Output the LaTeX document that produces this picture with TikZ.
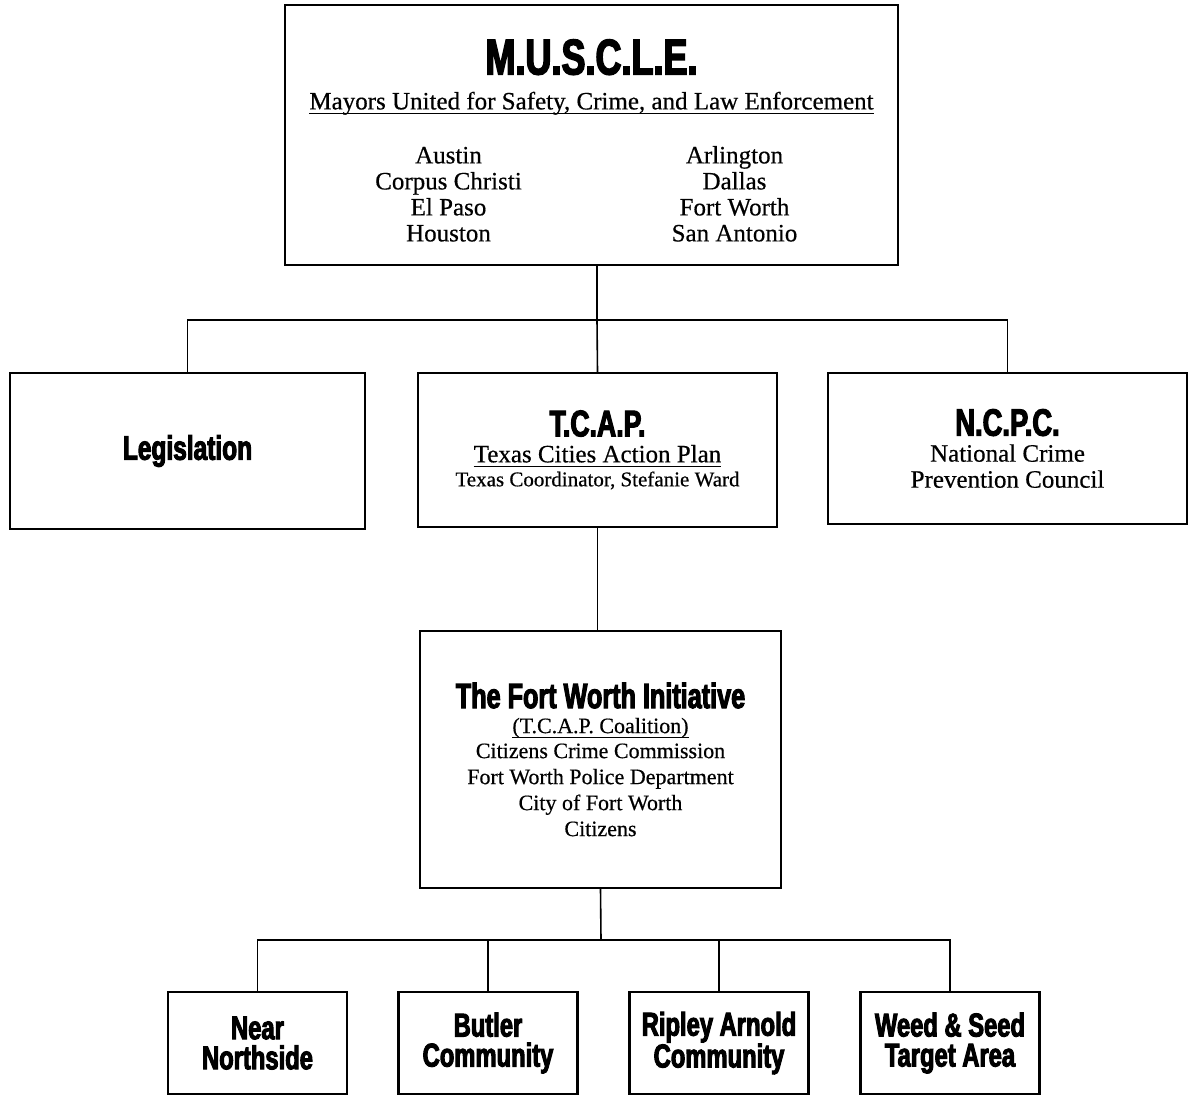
\documentclass[tikz,border=0pt]{standalone}
\usepackage{fontspec}
\setmainfont{Liberation Serif}[FakeBold=0.5]
\newfontfamily\headfont[FakeStretch=0.72,FakeBold=3]{Liberation Sans}
\newcommand{\boxhead}[2]{{\headfont\bfseries\fontsize{#1}{#1}\selectfont #2}}
\newcommand{\underrule}[1]{\setbox0\hbox{#1}\leavevmode\rlap{\raisebox{-5pt}{\rule{\wd0}{1.4pt}}}\box0}
\usepackage{tikz}

\begin{document}
\begin{tikzpicture}[
        x=1pt, y=-1pt,
        box/.style={
            draw,
            line width=2.2pt,
            align=center,
            inner sep=0pt,
            font=\fontsize{25}{26}\selectfont
        },
        area/.style={
            box,
            minimum width=179pt,
            minimum height=102pt,
            font=\headfont\bfseries\fontsize{33}{30}\selectfont
        },
        link/.style={line width=1.6pt}
    ]
        \useasboundingbox (0,0) rectangle (1193,1096);

        \node[box, minimum width=613pt, minimum height=260pt] (muscle) at (591.5,135) {\rule{0pt}{46pt}\boxhead{50}{M.U.S.C.L.E.}\\[9pt]
            \underrule{Mayors United for Safety, Crime, and Law Enforcement}\\[28pt]
            \makebox[286pt]{Austin}\makebox[286pt]{Arlington}\\
            \makebox[286pt]{Corpus Christi}\makebox[286pt]{Dallas}\\
            \makebox[286pt]{El Paso}\makebox[286pt]{Fort Worth}\\
            \makebox[286pt]{Houston}\makebox[286pt]{San Antonio}};

        \node[box, minimum width=355pt, minimum height=156pt] (legis) at (187.5,451) {\boxhead{34}{Legislation}};
        \node[box, minimum width=359pt, minimum height=154pt] (tcap) at (597.5,450) {\boxhead{37}{T.C.A.P.}\\[0pt]
            \underrule{Texas Cities Action Plan}\\[-2pt]
            {\fontsize{21}{26}\selectfont Texas Coordinator, Stefanie Ward}};
        \node[box, minimum width=359pt, minimum height=151pt] (ncpc) at (1007.5,448.5) {\boxhead{38}{N.C.P.C.}\\
            National Crime\\
            Prevention Council};

        \node[box, minimum width=361pt, minimum height=257pt, font=\fontsize{22}{26}\selectfont] (fw) at (600.5,759.5) {\boxhead{35}{The Fort Worth Initiative}\\[-1pt]
            \underrule{(T.C.A.P. Coalition)}\\[-1pt]
            Citizens Crime Commission\\
            Fort Worth Police Department\\
            City of Fort Worth\\
            Citizens};

        \node[area] (near) at (257.5,1043) {Near\\Northside};
        \node[area] (butler) at (488,1043) {Butler\\Community};
        \node[area] (ripley) at (719,1043) {Ripley Arnold\\Community};
        \node[area] (weed) at (950,1043) {Weed \& Seed\\Target Area};

        \coordinate (topsplit) at (597,320);
        \coordinate (botsplit) at (601,940);

        \draw[link] (muscle.south -| topsplit) -- (topsplit);
        \draw[link] (legis.north) |- (topsplit) -| (ncpc.north);
        \draw[link] (topsplit) -- (tcap.north);
        \draw[link] (tcap.south) -- (tcap.south |- fw.north);
        \draw[link] (fw.south) -- (botsplit);
        \draw[link] (near.north) |- (botsplit) -| (weed.north);
        \draw[link] (butler.north) -- (butler.north |- botsplit);
        \draw[link] (ripley.north) -- (ripley.north |- botsplit);
    \end{tikzpicture}
\end{document}
